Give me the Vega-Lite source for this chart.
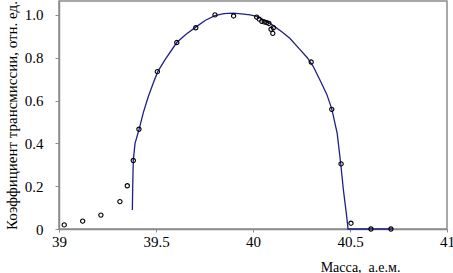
{
  "$schema": "https://vega.github.io/schema/vega-lite/v6.json",
  "width": 388,
  "height": 228,
  "autosize": {"type": "none"},
  "padding": {"left": 59, "top": 1, "right": 6, "bottom": 44},
  "background": "white",
  "config": {
    "view": {"stroke": "#8c8c8c", "strokeWidth": 1.5},
    "font": "'Times New Roman', 'Liberation Serif', serif"
  },
  "datasets": {
    "points": [
      {"m": 39.027, "t": 0.019}, {"m": 39.122, "t": 0.037}, {"m": 39.216, "t": 0.065},
      {"m": 39.314, "t": 0.128}, {"m": 39.352, "t": 0.202}, {"m": 39.383, "t": 0.32},
      {"m": 39.412, "t": 0.466}, {"m": 39.507, "t": 0.735}, {"m": 39.607, "t": 0.871},
      {"m": 39.705, "t": 0.94}, {"m": 39.804, "t": 1.0}, {"m": 39.9, "t": 0.995},
      {"m": 40.019, "t": 0.99}, {"m": 40.032, "t": 0.98}, {"m": 40.045, "t": 0.97},
      {"m": 40.058, "t": 0.967}, {"m": 40.071, "t": 0.964}, {"m": 40.082, "t": 0.96},
      {"m": 40.093, "t": 0.933}, {"m": 40.105, "t": 0.94}, {"m": 40.102, "t": 0.914},
      {"m": 40.3, "t": 0.78}, {"m": 40.406, "t": 0.559}, {"m": 40.454, "t": 0.304},
      {"m": 40.505, "t": 0.027}, {"m": 40.608, "t": 0.0}, {"m": 40.711, "t": 0.0}
    ],
    "curve": [
      {"m": 39.378, "t": 0.089}, {"m": 39.38, "t": 0.2}, {"m": 39.383, "t": 0.322},
      {"m": 39.392, "t": 0.4}, {"m": 39.412, "t": 0.463}, {"m": 39.435, "t": 0.545},
      {"m": 39.46, "t": 0.618}, {"m": 39.485, "t": 0.68}, {"m": 39.509, "t": 0.735},
      {"m": 39.546, "t": 0.79}, {"m": 39.607, "t": 0.871}, {"m": 39.655, "t": 0.91},
      {"m": 39.705, "t": 0.943}, {"m": 39.755, "t": 0.975}, {"m": 39.804, "t": 0.997},
      {"m": 39.85, "t": 1.006}, {"m": 39.897, "t": 1.008}, {"m": 39.94, "t": 1.005},
      {"m": 39.985, "t": 1.0}, {"m": 40.019, "t": 0.993}, {"m": 40.06, "t": 0.975},
      {"m": 40.105, "t": 0.95}, {"m": 40.15, "t": 0.92}, {"m": 40.191, "t": 0.89},
      {"m": 40.24, "t": 0.84}, {"m": 40.28, "t": 0.8}, {"m": 40.31, "t": 0.76},
      {"m": 40.345, "t": 0.696}, {"m": 40.38, "t": 0.63}, {"m": 40.406, "t": 0.561},
      {"m": 40.434, "t": 0.447}, {"m": 40.452, "t": 0.307}, {"m": 40.466, "t": 0.182},
      {"m": 40.483, "t": 0.058}, {"m": 40.49, "t": 0.0}, {"m": 40.72, "t": 0.0}
    ]
  },
  "encoding": {
    "x": {
      "field": "m", "type": "quantitative",
      "scale": {"domain": [39, 41], "nice": false, "zero": false},
      "axis": {
        "title": "Масса,\u00a0 а.е.м.",
        "titleFont": "'Times New Roman', 'Liberation Serif', serif", "titleFontSize": 14, "titleFontWeight": "normal", "titleColor": "#000",
        "titleX": 301, "titleY": 42, "titleBaseline": "alphabetic", "titleAlign": "center", "titleAnchor": null,
        "values": [39, 39.5, 40, 40.5, 41], "format": "~g",
        "labelFont": "'Times New Roman', 'Liberation Serif', serif", "labelFontSize": 15, "labelColor": "#000", "labelPadding": 2,
        "labelFlush": false, "labelOverlap": false,
        "domainColor": "#8c8c8c", "domainWidth": 1.5, "tickColor": "#8c8c8c", "tickSize": 3,
        "grid": false
      }
    },
    "y": {
      "field": "t", "type": "quantitative",
      "scale": {"domain": [0, 1.065], "nice": false},
      "axis": {
        "title": "Коэффициент трансмиссии, отн. ед.",
        "titleFont": "'Times New Roman', 'Liberation Serif', serif", "titleFontSize": 15, "titleFontWeight": "normal", "titleColor": "#000",
        "titleX": -40, "titleY": 114, "titleAngle": -90, "titleBaseline": "bottom", "titleAlign": "center", "titleAnchor": null,
        "values": [0, 0.2, 0.4, 0.6, 0.8, 1.0],
        "labelExpr": "datum.value == 0 ? '0' : format(datum.value, '.1f')",
        "labelFont": "'Times New Roman', 'Liberation Serif', serif", "labelFontSize": 15, "labelColor": "#000", "labelPadding": 12,
        "labelFlush": false, "labelOverlap": false,
        "domainColor": "#8c8c8c", "domainWidth": 1.5, "tickColor": "#8c8c8c", "tickSize": 4,
        "grid": false
      }
    }
  },
  "layer": [
    {
      "data": {"name": "curve"},
      "mark": {"type": "line", "color": "#1f1f8a", "strokeWidth": 1.3, "interpolate": "linear"},
      "encoding": {"order": {"value": 0}}
    },
    {
      "data": {"name": "points"},
      "mark": {"type": "point", "shape": "circle", "filled": false, "stroke": "#000", "strokeWidth": 1.1, "size": 18, "opacity": 1}
    }
  ]
}
